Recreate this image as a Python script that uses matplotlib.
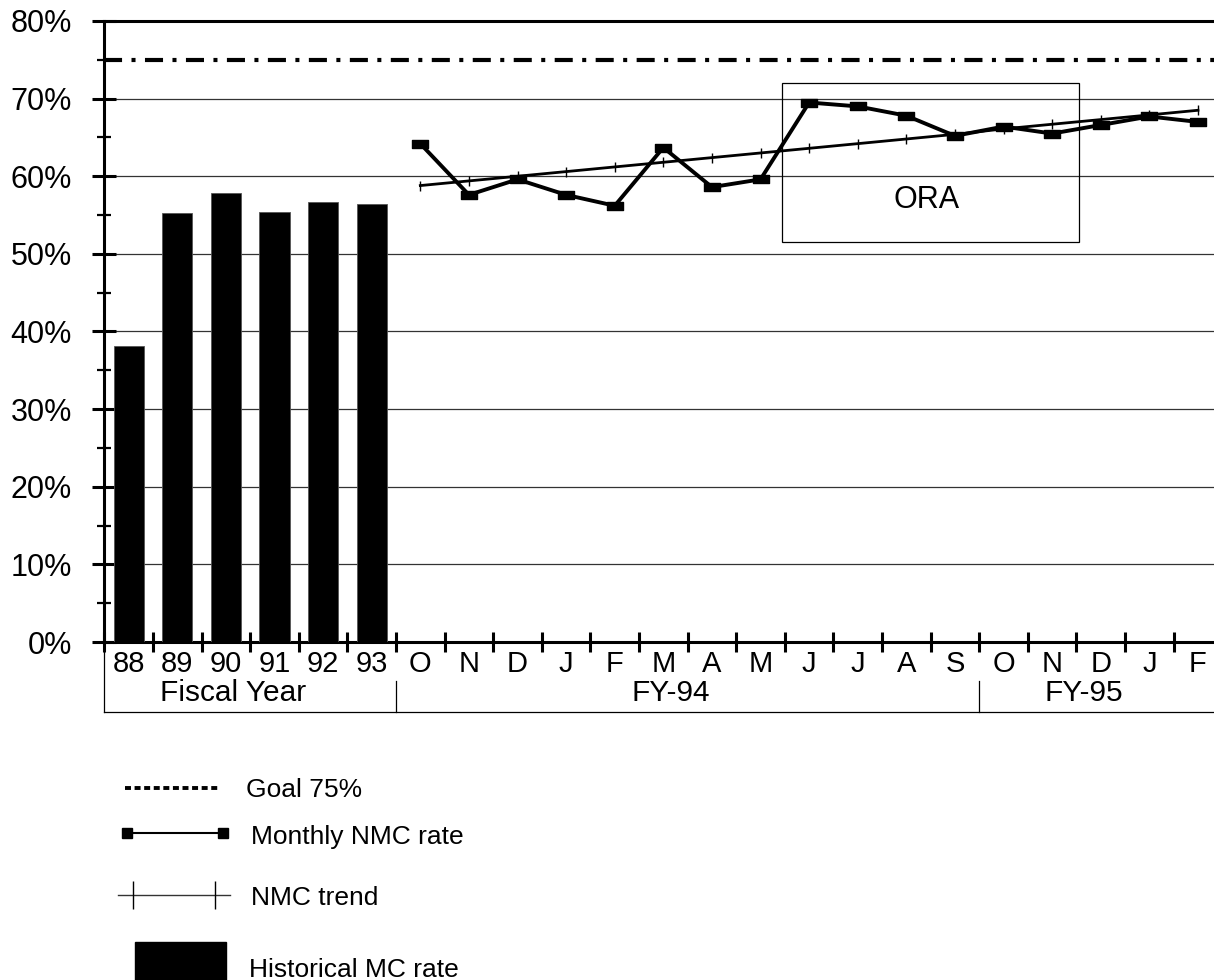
import numpy as np
import matplotlib.pyplot as plt
from matplotlib.path import Path
from matplotlib.patches import Rectangle

plt.rcParams['font.family'] = ['Liberation Sans', 'DejaVu Sans']
plt.rcParams['lines.scale_dashes'] = False

# ---------------- data ----------------
years = ['88', '89', '90', '91', '92', '93']
hist_mc = [38.1, 55.3, 57.8, 55.4, 56.7, 56.4]

months = ['O', 'N', 'D', 'J', 'F', 'M', 'A', 'M', 'J', 'J', 'A', 'S',
          'O', 'N', 'D', 'J', 'F']
monthly_nmc = [64.2, 57.6, 59.6, 57.6, 56.2, 63.7, 58.6, 59.6, 69.5, 69.0,
               67.8, 65.2, 66.4, 65.5, 66.6, 67.7, 67.0]
nmc_trend = [58.8, 59.4, 60.0, 60.6, 61.2, 61.8, 62.4, 63.0, 63.6, 64.2,
             64.8, 65.4, 66.1, 66.7, 67.3, 67.9, 68.5]

goal = 75
group_names = ['Fiscal Year', 'FY-94', 'FY-95']
group_sizes = [6, 12, 5]

# ORA box (category units / percent)
ora_x = (13.44, 19.55)
ora_y = (51.5, 72.0)

# ---------------- figure ----------------
W, H = 1214, 980
fig = plt.figure(figsize=(W / 100, H / 100), dpi=100)
ax = fig.add_axes([104.4 / W, 338 / H, (W - 104.4) / W, 621 / H])

labels = years + months
x_all = np.arange(len(labels))
x_years = x_all[:len(years)]
x_months = x_all[len(years):]

ax.bar(x_years, hist_mc, width=0.62, color='black', edgecolor='#555555',
       linewidth=0.6, zorder=3)

ax.axhline(goal, color='black', lw=3, dashes=(13, 6.8, 2.9, 6.8), zorder=3)

ax.plot(x_months, nmc_trend, color='black', lw=2, marker='|', ms=7, mew=1,
        zorder=4)

rect_marker = Path([(-1, -0.55), (1, -0.55), (1, 0.55), (-1, 0.55), (-1, -0.55)],
                   [Path.MOVETO, Path.LINETO, Path.LINETO, Path.LINETO, Path.CLOSEPOLY])
ax.plot(x_months, monthly_nmc, color='black', lw=2.8, marker=rect_marker,
        ms=11.5, zorder=5)

ax.add_patch(Rectangle((ora_x[0], ora_y[0]), ora_x[1] - ora_x[0], ora_y[1] - ora_y[0],
                       fill=False, ec='black', lw=0.9, zorder=4))
ax.text(sum(ora_x) / 2 - 0.07, 57.0, 'ORA', fontsize=22, ha='center', va='center')

# axes limits / spines
ax.set_xlim(-0.5, 22.33)
ax.set_ylim(0, 80)
ax.spines['right'].set_visible(False)
for s in ['left', 'bottom', 'top']:
    ax.spines[s].set_linewidth(2.2)

ax.set_yticks(np.arange(0, 81, 10))
ax.set_yticklabels(['%d%%' % v for v in range(0, 81, 10)], fontsize=22)
ax.set_yticks(np.arange(5, 80, 10), minor=True)
ax.tick_params(axis='y', which='major', direction='inout', length=17, width=2.2, pad=15)
ax.tick_params(axis='y', which='minor', direction='inout', length=9.4, width=1.6)

ax.set_xticks(np.arange(-0.5, len(labels) - 0.5, 1.0))
ax.set_xticklabels([])
ax.set_xticks(x_all, minor=True)
ax.set_xticklabels(labels, minor=True, fontsize=21)
ax.tick_params(axis='x', which='major', direction='inout', length=14.4, width=2.2)
ax.tick_params(axis='x', which='minor', length=0, pad=6)

ax.set_axisbelow(True)
ax.grid(axis='y', which='major', color='#333333', lw=0.9)

# group bracket under the categories
xt = ax.get_xaxis_transform()
y_line = -0.1127
ax.plot([-0.5, 23], [y_line, y_line], transform=xt, clip_on=False, color='black', lw=0.9)
ax.plot([-0.5, -0.5], [-0.016, y_line], transform=xt, clip_on=False, color='black', lw=0.9)
start = -0.5
for name, n in zip(group_names, group_sizes):
    ax.text(start + n / 2 - 0.35, -0.0815, name, transform=xt, fontsize=21.5,
            ha='center', va='center')
    start += n
    if start < len(labels) - 0.5:
        ax.plot([start, start], [-0.0628, y_line], transform=xt, clip_on=False,
                color='black', lw=0.9)

# ---------------- legend (pixel layout) ----------------
lax = fig.add_axes([0, 0, 1, 1])
lax.set_xlim(0, W)
lax.set_ylim(H, 0)
lax.axis('off')
lax.patch.set_alpha(0)

lax.plot([125, 220], [788, 788], color='black', lw=2.8, dashes=(4.3, 2.6))
lax.text(246, 797, 'Goal 75%', fontsize=19, va='baseline')

lax.plot([127, 223], [833, 833], color='black', lw=1.5, marker='s', ms=7)
lax.text(251, 844, 'Monthly NMC rate', fontsize=19, va='baseline')

lax.plot([118, 230], [895, 895], color='#333333', lw=1)
lax.plot([133, 215], [895, 895], ls='none', color='black', marker='|', ms=20, mew=1)
lax.text(251, 905, 'NMC trend', fontsize=19, va='baseline')

lax.add_patch(Rectangle((135, 942), 91, 40, color='black'))
lax.text(249, 977, 'Historical MC rate', fontsize=19, va='baseline')

fig.savefig('out.png', dpi=100)
